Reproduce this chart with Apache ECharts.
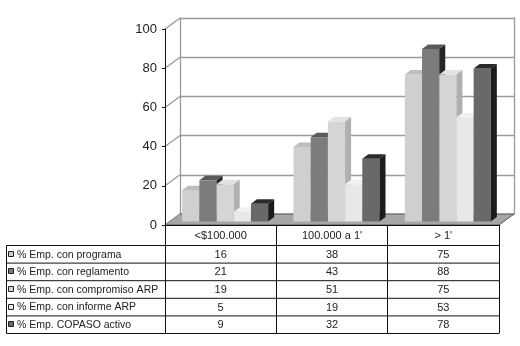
<!DOCTYPE html>
<html>
<head>
<meta charset="utf-8">
<script src="https://cdn.jsdelivr.net/npm/echarts@6/dist/echarts.min.js"></script>
<style>
  html, body { margin: 0; padding: 0; background: #fff; }
  #chart { width: 520px; height: 346px; }
</style>
</head>
<body>
<div id="chart"></div>
<script>
// data
const categories = ['<$100.000', '100.000 a 1\'', '> 1\'']
const seriesNames = [
    '% Emp. con programa',
    '% Emp. con reglamento',
    '% Emp. con compromiso ARP',
    '% Emp. con informe ARP',
    '% Emp. COPASO activo'
]
const conPrograma = [16, 38, 75]
const conReglamento = [21, 43, 88]
const conCompromiso = [19, 51, 75]
const conInforme = [5, 19, 53]
const copasoActivo = [9, 32, 78]
const yTicks = [0, 20, 40, 60, 80, 100]

const seriesValues = [conPrograma, conReglamento, conCompromiso, conInforme, copasoActivo]

// look of the 3d boxes: front, top, side
const shades = [
    ['#cfcfcf', '#bdbdbd', '#a8a8a8'],
    ['#7c7c7c', '#5a5a5a', '#262626'],
    ['#d5d5d5', '#e2e2e2', '#b0b0b0'],
    ['#e8e8e8', '#f1f1f1', '#c9c9c9'],
    ['#696969', '#2b2b2b', '#1b1b1b']
]

// layout
const GRID_LEFT = 165, GRID_RIGHT = 21, GRID_TOP = 29, GRID_BOTTOM = 121
const DX = 15, DY = -11          // depth of the walls
const BAR_W = 17.2, BAR_OX = 4.5, BAR_OY = -3.5
const BAR_DX = 6, BAR_DY = -4.5   // depth of a bar
const ROW_TOP = 245.5, ROW_H = 17.6, TABLE_LEFT = 6.5
const TABLE_RIGHT = 520 - GRID_RIGHT
const FONT = 'Liberation Sans, Arial, sans-serif'

let myChart = echarts.init(document.getElementById('chart'), null, { renderer: 'canvas' })

function barSeries(idx){
    return {
        type: 'custom',
        name: seriesNames[idx],
        xAxisIndex: 0,
        yAxisIndex: 0,
        clip: false,
        z: 3,
        data: seriesValues[idx].map((v, c) => [c, v]),
        renderItem: function(params, api){
            let top = api.coord([api.value(0), api.value(1)])
            let base = api.coord([api.value(0), 0])
            let x0 = top[0] + BAR_OX + (idx - 2.5) * BAR_W
            let yT = top[1] + BAR_OY
            let yB = base[1] + BAR_OY
            let s = shades[idx]
            return {
                type: 'group',
                children: [
                    {
                        type: 'rect',
                        shape: { x: x0, y: yT, width: BAR_W, height: yB - yT },
                        style: { fill: s[0] }
                    },
                    {
                        type: 'polygon',
                        shape: { points: [[x0, yT], [x0 + BAR_W, yT], [x0 + BAR_W + BAR_DX, yT + BAR_DY], [x0 + BAR_DX, yT + BAR_DY]] },
                        style: { fill: s[1] }
                    },
                    {
                        type: 'polygon',
                        shape: { points: [[x0 + BAR_W, yT], [x0 + BAR_W + BAR_DX, yT + BAR_DY], [x0 + BAR_W + BAR_DX, yB + BAR_DY], [x0 + BAR_W, yB]] },
                        style: { fill: s[2] }
                    }
                ]
            }
        }
    }
}

// floor and left wall lines, drawn from the front axes
let floorSeries = {
    type: 'custom',
    xAxisIndex: 0,
    yAxisIndex: 0,
    clip: false,
    silent: true,
    z: 1,
    data: [[0, 0]],
    renderItem: function(params, api){
        let bw = api.size([1, 0])[0]
        let l = api.coord([0, 0])[0] - bw / 2
        let r = api.coord([categories.length - 1, 0])[0] + bw / 2
        let y = api.coord([0, 0])[1]
        return {
            type: 'polygon',
            shape: { points: [[l, y], [r, y], [r + DX, y + DY], [l + DX, y + DY]] },
            style: { fill: '#a6a6a6', stroke: '#555', lineWidth: 1 }
        }
    }
}

let wallSeries = {
    type: 'custom',
    xAxisIndex: 0,
    yAxisIndex: 0,
    clip: false,
    silent: true,
    z: 1,
    data: yTicks.map(t => [0, t]),
    renderItem: function(params, api){
        let bw = api.size([1, 0])[0]
        let p = api.coord([0, api.value(1)])
        let l = p[0] - bw / 2
        return {
            type: 'line',
            shape: { x1: l, y1: p[1], x2: l + DX, y2: p[1] + DY },
            style: { stroke: '#9a9a9a', lineWidth: 1.3 }
        }
    }
}

// data table under the plot
let table = []
for (let r = 0; r <= seriesNames.length; r++){
    let y = ROW_TOP + r * ROW_H
    table.push({
        type: 'line',
        shape: { x1: TABLE_LEFT, y1: y, x2: TABLE_RIGHT, y2: y },
        style: { stroke: '#111', lineWidth: 1 }
    })
}
table.push({
    type: 'line',
    shape: { x1: TABLE_LEFT, y1: ROW_TOP, x2: TABLE_LEFT, y2: ROW_TOP + seriesNames.length * ROW_H },
    style: { stroke: '#111', lineWidth: 1 }
})
let colW = (TABLE_RIGHT - GRID_LEFT) / categories.length
seriesNames.forEach((name, r) => {
    let yc = ROW_TOP + r * ROW_H + ROW_H / 2 + 0.5
    table.push({
        type: 'rect',
        shape: { x: 8.5, y: Math.round(yc - 3) - 0.5, width: 5, height: 5 },
        style: { fill: shades[r][0], stroke: '#222', lineWidth: 1 }
    })
    table.push({
        type: 'text',
        style: { text: name, x: 17, y: yc, font: '10.5px ' + FONT, fill: '#222', textAlign: 'left', textVerticalAlign: 'middle' }
    })
    seriesValues[r].forEach((v, c) => {
        table.push({
            type: 'text',
            style: { text: String(v), x: GRID_LEFT + colW * (c + 0.5), y: yc, font: '11px ' + FONT, fill: '#222', textAlign: 'center', textVerticalAlign: 'middle' }
        })
    })
})

let option = {
    backgroundColor: '#fff',
    animation: false,
    grid: [
        { left: GRID_LEFT, right: GRID_RIGHT, top: GRID_TOP, bottom: GRID_BOTTOM },
        { left: GRID_LEFT + DX, right: GRID_RIGHT - DX, top: GRID_TOP + DY, bottom: GRID_BOTTOM - DY }
    ],
    xAxis: [
        {
            type: 'category',
            gridIndex: 0,
            data: categories,
            z: 5,
            axisLine: { lineStyle: { color: '#111', width: 1 } },
            axisTick: { show: true, length: ROW_TOP + seriesNames.length * ROW_H - (346 - GRID_BOTTOM), lineStyle: { color: '#111', width: 1 } },
            axisLabel: { margin: 5, fontSize: 11, fontFamily: FONT, color: '#222' },
            splitLine: { show: false }
        },
        {
            type: 'category',
            gridIndex: 1,
            data: categories,
            show: false
        }
    ],
    yAxis: [
        {
            type: 'value',
            gridIndex: 0,
            min: 0,
            max: 100,
            interval: 20,
            z: 5,
            axisLine: { show: true, lineStyle: { color: '#111', width: 1 } },
            axisTick: { show: true, length: 3, lineStyle: { color: '#111' } },
            axisLabel: { margin: 8, fontSize: 13, fontFamily: FONT, color: '#222' },
            splitLine: { show: false }
        },
        {
            type: 'value',
            gridIndex: 1,
            min: 0,
            max: 100,
            interval: 20,
            axisLine: { show: true, lineStyle: { color: '#9a9a9a', width: 1.3 } },
            axisTick: { show: false },
            axisLabel: { show: false },
            splitLine: { show: true, lineStyle: { color: '#9a9a9a', width: 1.3 } }
        },
        {
            type: 'value',
            gridIndex: 1,
            position: 'right',
            min: 0,
            max: 100,
            interval: 20,
            axisLine: { show: true, lineStyle: { color: '#9a9a9a', width: 1.3 } },
            axisTick: { show: false },
            axisLabel: { show: false },
            splitLine: { show: false }
        }
    ],
    graphic: table,
    series: [floorSeries, wallSeries].concat(seriesNames.map((n, i) => barSeries(i)))
}

myChart.setOption(option)
</script>
</body>
</html>
